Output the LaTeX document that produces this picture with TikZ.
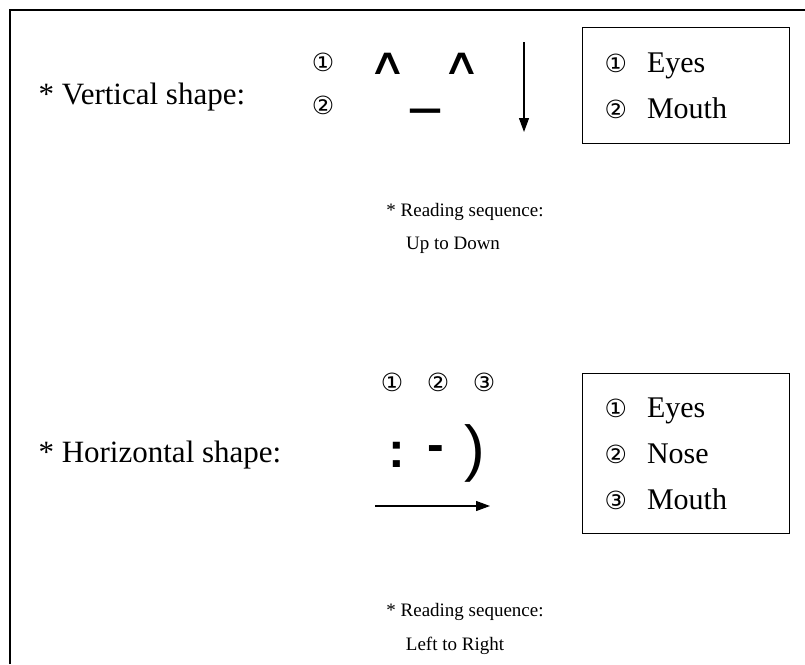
\documentclass[tikz,border=0pt]{standalone}
\usepackage{fontspec}
\setmainfont{Liberation Serif}
\newfontfamily\symfont{DejaVu Sans}
\newfontfamily\facefont{Liberation Sans}
\usepackage{tikz}
\usetikzlibrary{arrows.meta,positioning}
\newcommand{\cnum}[1]{{\symfont\fontsize{25}{25}\selectfont #1}\hspace{20pt}}

\begin{document}
\begin{tikzpicture}[
  x=1pt, y=-1pt,
  shapelabel/.style={anchor=west, font=\fontsize{31}{37}\selectfont},
  note/.style={font=\fontsize{19}{23}\selectfont},
  key/.style={draw, line width=1.2pt, anchor=north west, text width=163pt,
              inner xsep=22pt, align=left, font=\fontsize{30}{46}\selectfont},
  num/.style={font=\symfont\fontsize{25}{25}\selectfont},
  facepart/.style={font=\symfont\fontsize{46}{46}\selectfont},
  emo/.style={font=\facefont\bfseries\fontsize{50}{50}\selectfont},
  arr/.style={-{Triangle[length=14pt,width=10pt]}, line width=1.2pt}]
\useasboundingbox (0,0) rectangle (805,664);
\draw[line width=2pt] (10,664) -- (10,10) -- (805,10);

% vertical shape
\node[shapelabel] (vlabel) at (35,97) {* Vertical shape:};
\node[num] (vn1) at (323,62) {①};
\node[num] (vn2) at (323,105) {②};
\node[facepart, transform shape, yscale=0.8, xscale=1.15] (leye) at (388,64) {∧};
\node[facepart, transform shape, yscale=0.8, xscale=1.15] (reye) at (462,64) {∧};
\node[facepart, font=\symfont\bfseries\fontsize{34}{34}\selectfont] (vmouth) at (425,115) {—};
\coordinate (vtop) at (524,42);
\coordinate (vbot) at (524,132);
\draw[arr] (vtop) -- (vbot);
\node[key, minimum height=116pt] (vkey) at (582,27) {\cnum{①}Eyes\\\cnum{②}Mouth};
\node[note] (vread) at (465,212) {* Reading sequence:};
\node[note, below=9pt of vread, xshift=-12pt] (vorder) {Up to Down};

% horizontal shape
\node[shapelabel] (hlabel) at (35,455) {* Horizontal shape:};
\foreach \n/\x in {1/392,2/438,3/484}
  \node[num] (hn\n) at (\x,382) {\ifcase\n\or ①\or ②\or ③\fi};
\node[emo] (heyes) at (397,455) {:};
\node[emo] (hnose) at (436,454) {-};
\node[emo, font=\facefont\fontsize{62}{62}\selectfont] (hmouth) at (475,453) {)};
\coordinate (hleft) at (375,506);
\coordinate (hright) at (490,506);
\draw[arr] (hleft) -- (hright);
\node[key, minimum height=160pt] (hkey) at (582,373) {\cnum{①}Eyes\\\cnum{②}Nose\\\cnum{③}Mouth};
\node[note] (hread) at (465,612) {* Reading sequence:};
\node[note, below=9pt of hread, xshift=-10pt] (horder) {Left to Right};
\end{tikzpicture}
\end{document}
